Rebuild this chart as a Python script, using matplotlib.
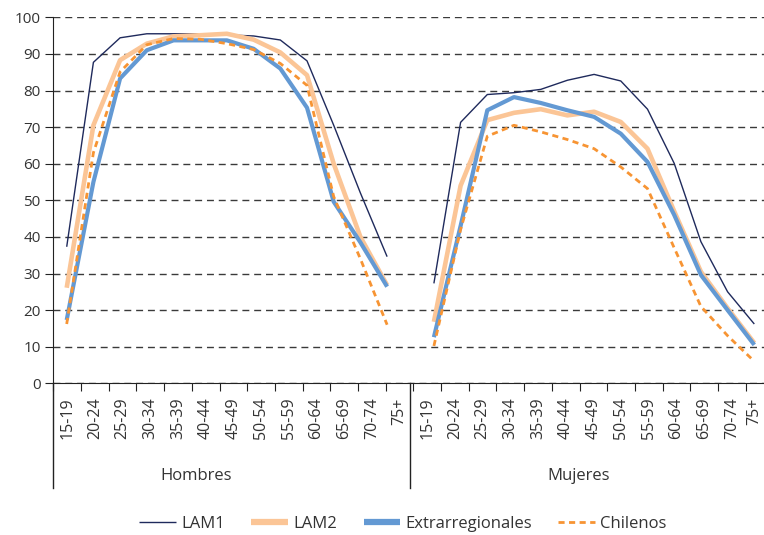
import numpy as np
import matplotlib.pyplot as plt
from matplotlib.lines import Line2D

plt.rcParams['font.family'] = ['Open Sans', 'DejaVu Sans']

# --- Datos ---
grupos = ["15-19", "20-24", "25-29", "30-34", "35-39", "40-44", "45-49",
          "50-54", "55-59", "60-64", "65-69", "70-74", "75+"]
sexos = ["Hombres", "Mujeres"]

hombres_lam1 = [37.3, 87.7, 94.4, 95.5, 95.5, 95.5, 95.2, 94.9, 93.8, 88.1, 70.5, 52.0, 34.6]
hombres_lam2 = [26.1, 70.5, 88.3, 92.8, 94.8, 95.1, 95.5, 93.9, 90.4, 84.2, 60.0, 40.0, 26.8]
hombres_extra = [17.3, 55.0, 83.3, 91.0, 93.7, 93.7, 93.7, 91.4, 86.0, 75.3, 49.6, 38.5, 26.4]
hombres_chile = [16.2, 63.0, 85.1, 92.5, 94.2, 94.0, 92.8, 91.2, 87.4, 81.4, 51.0, 34.0, 16.0]

mujeres_lam1 = [27.3, 71.3, 78.9, 79.4, 80.3, 82.8, 84.4, 82.6, 74.9, 60.1, 38.7, 25.0, 16.2]
mujeres_lam2 = [16.8, 54.0, 71.9, 73.9, 74.9, 73.2, 74.2, 71.4, 64.1, 47.0, 30.5, 20.5, 11.0]
mujeres_extra = [12.6, 43.0, 74.6, 78.2, 76.6, 74.6, 72.8, 68.2, 60.5, 46.0, 29.6, 20.0, 10.5]
mujeres_chile = [10.2, 42.0, 67.5, 70.5, 68.7, 66.6, 64.1, 59.1, 53.2, 37.0, 21.0, 13.0, 6.0]

series = [
    ("LAM1", hombres_lam1, mujeres_lam1, dict(color="#1f2a5c", lw=1.0)),
    ("LAM2", hombres_lam2, mujeres_lam2, dict(color="#fbc596", lw=3.3)),
    ("Extrarregionales", hombres_extra, mujeres_extra, dict(color="#6399d3", lw=3.0)),
    ("Chilenos", hombres_chile, mujeres_chile, dict(color="#f79433", lw=2.0, dashes=(2.2, 1.6))),
]

# posiciones (en unidades de marca del eje)
paso = 26.7 / 27.7
x_h = 0.484 + np.arange(len(grupos)) * paso
x_m = 13.74 + np.arange(len(grupos)) * paso

fig = plt.figure(figsize=(7.64, 5.35), dpi=100)
ax = fig.add_axes([53.3 / 764, (535 - 383.3) / 535, 1 - 53.3 / 764, 366 / 535])

for nombre, h, m, estilo in series:
    ax.plot(x_h, h, solid_capstyle='butt', **estilo)
    ax.plot(x_m, m, solid_capstyle='butt', **estilo)

ax.set_ylim(0, 100)
ax.set_xlim(0, (764 - 53.3) / 27.7)
ax.set_yticks(range(0, 101, 10))
ax.yaxis.grid(True, color="#3a3a3a", lw=1.0, dashes=(5, 3.5))
ax.set_axisbelow(True)

for s in ["top", "right"]:
    ax.spines[s].set_visible(False)
ax.spines["left"].set_color("#222222")
ax.spines["bottom"].set_color("#222222")
ax.tick_params(axis="y", length=6, color="#222222", labelsize=11, labelcolor="#333333", pad=3)

# marcas entre categorias y etiquetas centradas
pos_etiq = np.arange(26) + 0.5
pos_etiq[-1] -= 0.18  # que el ultimo no quede cortado en el borde
ax.set_xticks(np.arange(0, 26))
ax.set_xticks(pos_etiq, minor=True)
ax.set_xticklabels([])
ax.set_xticklabels(grupos + grupos, minor=True, rotation=90, fontsize=11.5, color="#333333")
ax.tick_params(axis="x", which="major", length=6, color="#222222")
ax.tick_params(axis="x", which="minor", length=0, pad=10)

# separadores de grupo bajo el eje
prof = -(488 - 383.3) / 366
ax.plot([0, 0], [0, prof], transform=ax.get_xaxis_transform(), color="#222222", lw=1.0, clip_on=False)
ax.plot([12.88, 12.88], [0, prof], transform=ax.get_xaxis_transform(), color="#222222", lw=1.0, clip_on=False)

ax.text(5.15, -(476 - 383.3) / 366, sexos[0], transform=ax.get_xaxis_transform(),
        ha="center", va="center", fontsize=12, color="#333333")
ax.text(18.98, -(476 - 383.3) / 366, sexos[1], transform=ax.get_xaxis_transform(),
        ha="center", va="center", fontsize=12, color="#333333")

handles = []
for nombre, h, m, estilo in series:
    e = dict(estilo)
    if nombre in ("LAM2", "Extrarregionales"):
        e["lw"] = 4.5
    handles.append(Line2D([], [], solid_capstyle='butt', **e))
fig.legend(handles, [s[0] for s in series], loc="center", bbox_to_anchor=(403 / 764, (535 - 524) / 535),
           ncol=4, frameon=False, fontsize=12, handlelength=2.2, handletextpad=0.3, columnspacing=1.6,
           labelcolor="#333333")

fig.savefig("out.png", dpi=100)
